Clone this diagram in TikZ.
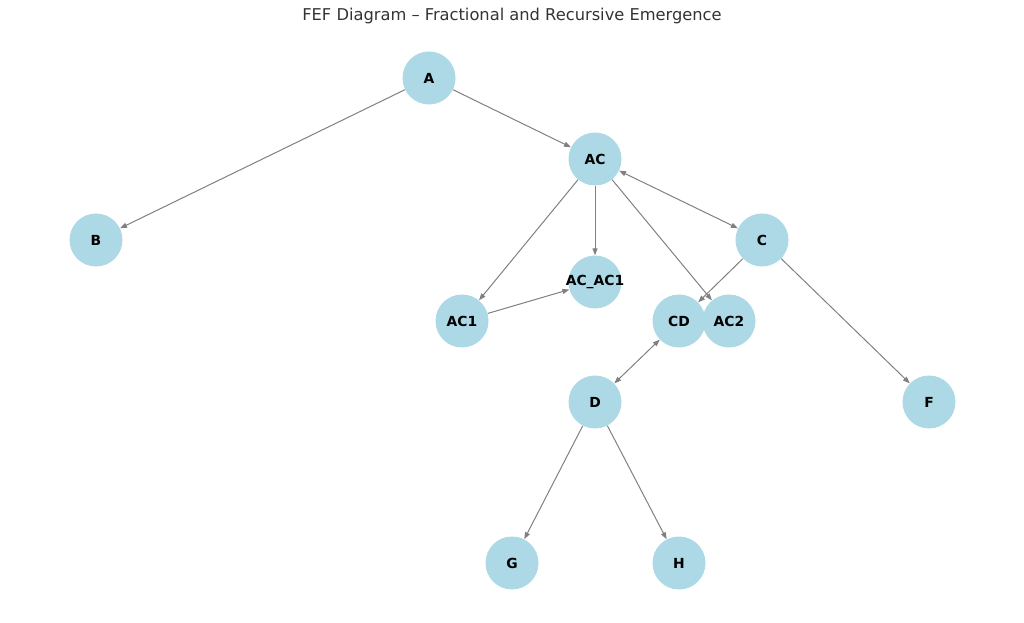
\documentclass[tikz,border=0pt]{standalone}
\usepackage{fontspec}
\setmainfont{DejaVu Sans}
\usetikzlibrary{arrows.meta}
\definecolor{nodeblue}{RGB}{173,216,230}
\definecolor{edgegray}{RGB}{128,128,128}
\definecolor{titlegray}{RGB}{51,51,51}
\newcommand{\zerowidth}[1]{\makebox[0pt][c]{#1}}
\tikzset{
  vtx/.style={circle, fill=nodeblue, draw=none, minimum size=39.75pt, inner sep=0pt, font=\fontsize{10.4}{12}\selectfont\bfseries, text=black},
  edge/.style={draw=edgegray, line width=0.75pt, -{Triangle[length=5.2pt,width=3.8pt]}},
  biedge/.style={draw=edgegray, line width=0.75pt, {Triangle[length=5.2pt,width=3.8pt]}-{Triangle[length=5.2pt,width=3.8pt]}}
}
\begin{document}
\begin{tikzpicture}[x=0.75pt,y=-0.75pt]
\useasboundingbox (0,0) rectangle (1024,623);
\node[font=\fontsize{12.2}{14}\selectfont, text=titlegray] (title) at (512,16) {FEF Diagram – Fractional and Recursive Emergence};
\node[vtx] (A) at (429,78) {A};
\node[vtx] (AC) at (595,159) {AC};
\node[vtx] (B) at (96,240) {B};
\node[vtx] (C) at (762,240) {C};
\node[vtx] (ACAC1) at (595,282) {\zerowidth{AC\_AC1}};
\node[vtx] (AC1) at (462,321) {AC1};
\node[vtx] (CD) at (679,321) {CD};
\node[vtx] (AC2) at (729,321) {AC2};
\node[vtx] (D) at (595,402) {D};
\node[vtx] (F) at (929,402) {F};
\node[vtx] (G) at (512,563) {G};
\node[vtx] (H) at (679,563) {H};
\draw[edge] (A) -- (B);
\draw[edge] (A) -- (AC);
\draw[edge] (AC) -- (AC1);
\draw[edge] (AC) -- (ACAC1);
\draw[edge] (AC) -- (AC2);
\draw[biedge] (AC) -- (C);
\draw[edge] (C) -- (CD);
\draw[edge] (C) -- (F);
\draw[edge] (AC1) -- (ACAC1);
\draw[biedge] (CD) -- (D);
\draw[edge] (D) -- (G);
\draw[edge] (D) -- (H);
\end{tikzpicture}
\end{document}
